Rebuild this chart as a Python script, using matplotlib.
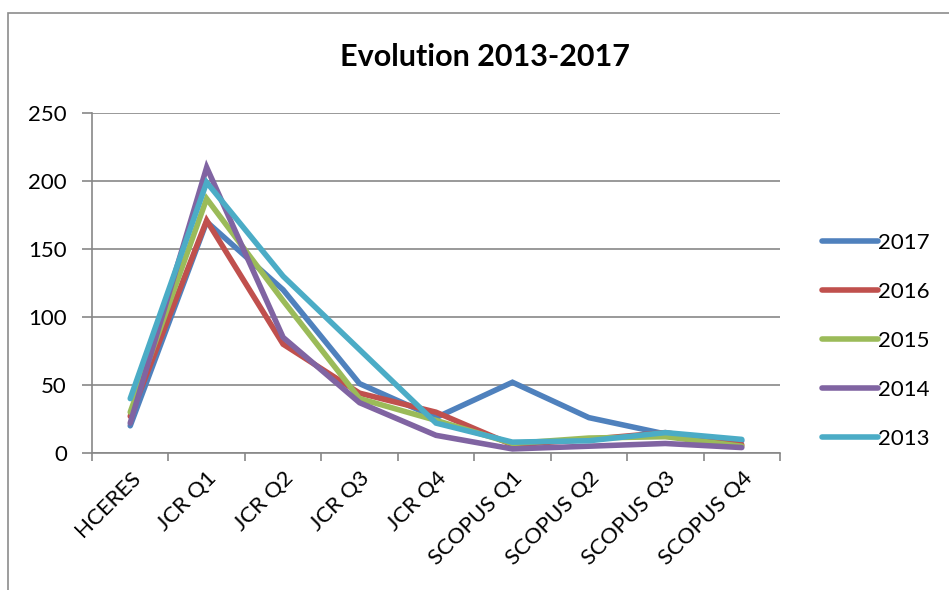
import matplotlib
matplotlib.use("Agg")
import matplotlib.pyplot as plt
from matplotlib.patches import Rectangle
import numpy as np

categories = ["HCERES", "JCR Q1", "JCR Q2", "JCR Q3", "JCR Q4",
              "SCOPUS Q1", "SCOPUS Q2", "SCOPUS Q3", "SCOPUS Q4"]
years = ["2017", "2016", "2015", "2014", "2013"]
v2017 = [20, 170, 120, 51, 26, 52, 26, 14, 9]
v2016 = [27, 171, 80, 44, 30, 6, 10, 15, 6]
v2015 = [30, 187, 112, 40, 24, 7, 11, 12, 5]
v2014 = [22, 210, 85, 37, 13, 3, 5, 7, 4]
v2013 = [40, 199, 130, 76, 22, 8, 9, 15, 10]
series = [v2017, v2016, v2015, v2014, v2013]
colors = ["#4F81BD", "#C0504D", "#9BBB59", "#8064A2", "#4BACC6"]

W, H = 949, 590
fig = plt.figure(figsize=(W / 100, H / 100), dpi=100)
plt.rcParams['font.family'] = ['Lato', 'DejaVu Sans']

# outer border
fig.patches.append(Rectangle((8 / W, -0.1), 1.2, (H - 13) / H + 0.1,
                             transform=fig.transFigure, fill=False,
                             edgecolor="#8c8c8c", linewidth=1.2))

ax = fig.add_axes([92 / W, 1 - 453 / H, (780 - 92) / W, (453 - 113) / H])
x = np.arange(len(categories))
for yr, vals, c in zip(years, series, colors):
    ax.plot(x, vals, color=c, linewidth=4.0, label=yr,
            solid_capstyle="round", solid_joinstyle="miter")

ax.set_xlim(-0.5, len(categories) - 0.5)
ax.set_ylim(0, 250)
ax.set_yticks([0, 50, 100, 150, 200, 250])
ax.yaxis.grid(True, color="#878787", linewidth=1.2)
ax.set_axisbelow(True)
for s in ["top", "right"]:
    ax.spines[s].set_visible(False)
for s in ["left", "bottom"]:
    ax.spines[s].set_color("#878787")
    ax.spines[s].set_linewidth(1.2)

ax.set_xticks(x)
ax.set_xticklabels(categories, rotation=45, ha="right", rotation_mode="anchor",
                   fontsize=16)
ax.tick_params(axis="x", which="major", length=0, pad=11)
ax.set_xticks(np.arange(-0.5, len(categories)), minor=True)
ax.tick_params(axis="x", which="minor", length=6, color="#878787", width=1.2)
ax.tick_params(axis="y", length=7, color="#878787", width=1.2, labelsize=16, pad=11)

fig.text(485 / W, 1 - 57 / H, "Evolution 2013-2017", ha="center", va="center",
         fontsize=22, fontweight="bold")

ax.legend(loc="center left", bbox_to_anchor=(822 / W, 1 - 341 / H),
          bbox_transform=fig.transFigure, frameon=False, fontsize=16,
          handlelength=2.5, handletextpad=0.0, labelspacing=1.3,
          borderaxespad=0, borderpad=0)

fig.savefig("out.png", dpi=100)
